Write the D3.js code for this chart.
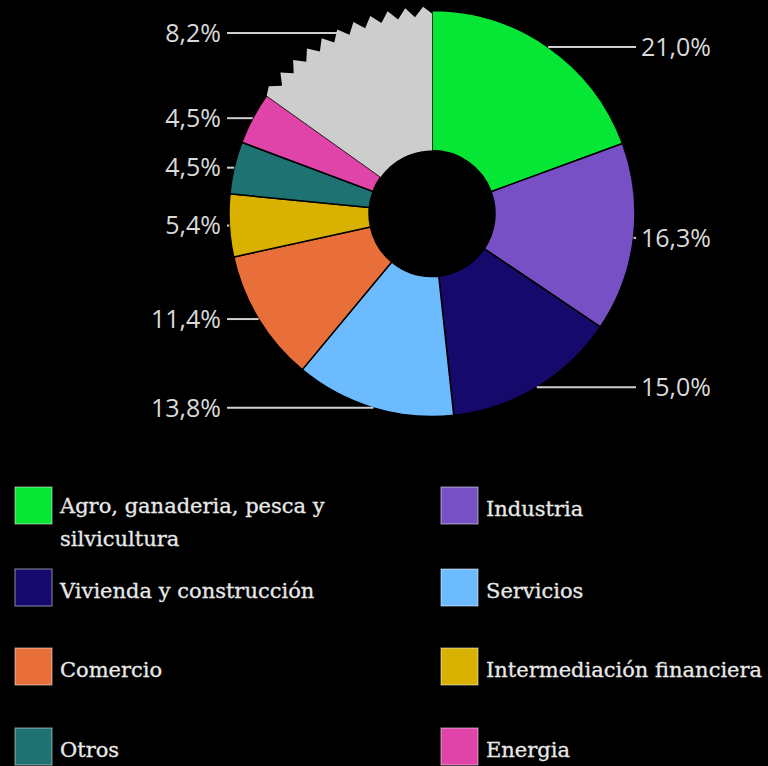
<!DOCTYPE html>
<html>
<head>
<meta charset="utf-8">
<script src="https://cdn.jsdelivr.net/npm/d3@7"></script>
<style>
  html, body { margin: 0; padding: 0; background: #000; }
  svg { display: block; }
</style>
</head>
<body>
<svg id="chart" width="768" height="766"></svg>
<script>
// ---- data ----
const categories = [
  "Agro, ganaderia, pesca y silvicultura",
  "Industria",
  "Vivienda y construcción",
  "Servicios",
  "Comercio",
  "Intermediación financiera",
  "Otros",
  "Energia",
  "Otros (fuera de escala)"
];
// shares shown in the labels (%)
const shareValues = [21.0, 16.3, 15.0, 13.8, 11.4, 5.4, 4.5, 4.5, 8.2];
// size each slice is drawn with (the grey, broken slice is drawn out of scale)
const drawnValues = [21.0, 16.3, 15.0, 13.8, 11.4, 5.4, 4.5, 4.5, 16.4];
const colors = ["#06e634", "#7650c4", "#150a6c", "#6dbbff", "#e86f3a",
                "#d9b100", "#1e7272", "#e044a8", "#cdcdcd"];
// legend order (two columns, row by row)
const legendOrder = [0, 1, 2, 3, 4, 5, 6, 7];
const legendLines = {0: ["Agro, ganaderia, pesca y", "silvicultura"]};

// ---- layout ----
const svg = d3.select("#chart");
const cx = 432, cy = 213.5, R = 203, R0 = 63;
const g = svg.append("g").attr("transform", `translate(${cx},${cy})`);

const pie = d3.pie().sort(null).value(d => d.v);
const arcs = pie(drawnValues.map((v, i) => ({v, i})));
const arc = d3.arc().innerRadius(R0).outerRadius(R);

// regular slices
g.selectAll("path.slice")
  .data(arcs.filter(a => a.index < 8))
  .join("path")
  .attr("class", "slice")
  .attr("d", arc)
  .attr("fill", a => colors[a.index])
  .attr("stroke", "#000")
  .attr("stroke-width", 1.5);

// broken (zig-zag) grey slice
const grey = arcs[8];
const teeth = 11, rTip = 207, rValley = 197;
const pts = [];
const span = grey.endAngle - grey.startAngle;
pts.push([grey.startAngle, R]);
for (let k = 1; k < teeth * 2; k++) {
  pts.push([grey.startAngle + span * k / (teeth * 2), k % 2 ? rTip : rValley]);
}
pts.push([grey.endAngle, 200]);
const innerSteps = 40;
for (let k = 0; k <= innerSteps; k++) {
  pts.push([grey.endAngle - span * k / innerSteps, R0]);
}
const radial = d3.lineRadial().angle(d => d[0]).radius(d => d[1]).curve(d3.curveLinearClosed);
g.append("path")
  .attr("d", radial(pts))
  .attr("fill", colors[8])
  .attr("stroke", "none");

// ---- percentage labels with leader lines ----
const fmt = v => d3.format(".1f")(v).replace(".", ",") + "%";
const labelFont = "'Open Sans', 'Noto Sans', sans-serif";
arcs.forEach(a => {
  const mid = (a.startAngle + a.endAngle) / 2;
  const px = Math.sin(mid) * R;
  const py = -Math.cos(mid) * R;
  const right = px > 0;
  const endX = right ? 636 - cx : 227 - cx;
  g.append("line")
    .attr("x1", px).attr("y1", py)
    .attr("x2", endX).attr("y2", py)
    .attr("stroke", "#cfcfcf")
    .attr("stroke-width", 2);
  g.append("text")
    .attr("x", right ? endX + 5 : endX - 6)
    .attr("y", py)
    .attr("dy", "0.35em")
    .attr("text-anchor", right ? "start" : "end")
    .attr("font-family", labelFont)
    .attr("font-size", 25)
    .attr("fill", "#dadada")
    .text(fmt(shareValues[a.index]));
});

// ---- legend ----
const colX = [15, 441];
const rowTop = [487, 569, 648, 728];
const sw = 37;
const legend = svg.append("g");
legendOrder.forEach((ci, k) => {
  const col = k % 2, row = Math.floor(k / 2);
  const x = colX[col], y = rowTop[row];
  legend.append("rect")
    .attr("x", x).attr("y", y)
    .attr("width", sw).attr("height", sw)
    .attr("fill", colors[ci])
    .attr("stroke", "rgba(255,255,255,0.45)")
    .attr("stroke-width", 1.2);
  const lines = legendLines[ci] || [categories[ci]];
  const t = legend.append("text")
    .attr("font-family", "'DejaVu Serif', serif")
    .attr("font-size", 21)
    .attr("fill", "#e8e8e8")
    .attr("stroke", "#e8e8e8")
    .attr("stroke-width", 0.3);
  if (lines.length > 1) {
    lines.forEach((ln, j) => {
      t.append("tspan").attr("x", x + 45).attr("y", y + 26 + j * 33).text(ln);
    });
  } else {
    t.attr("x", x + 45).attr("y", y + 29).text(lines[0]);
  }
});
</script>
</body>
</html>
